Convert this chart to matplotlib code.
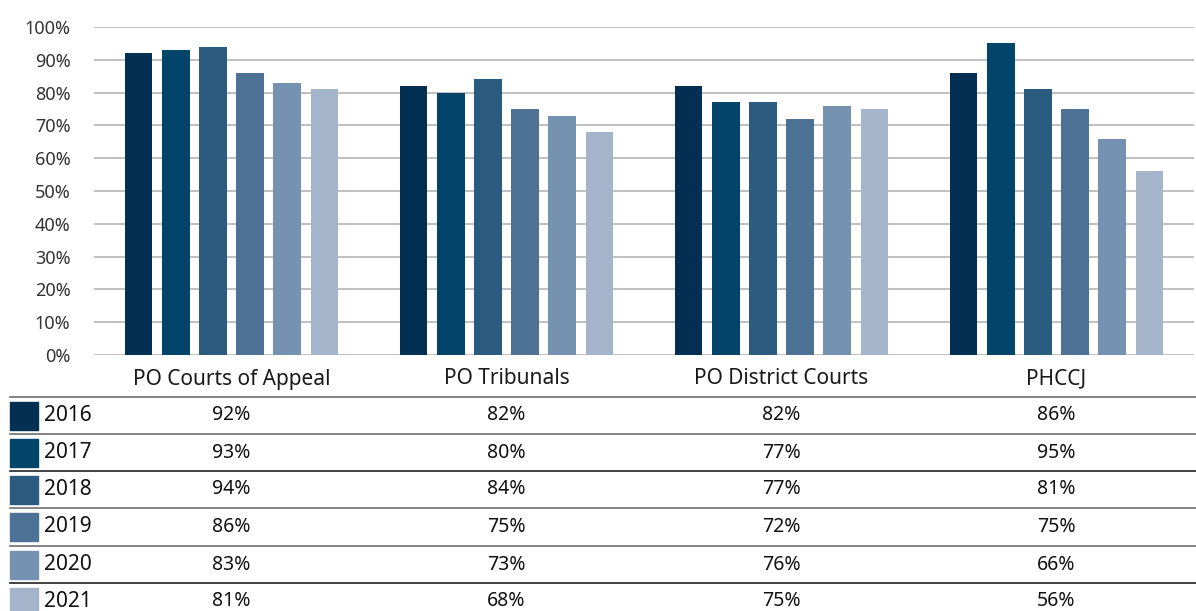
import matplotlib.pyplot as plt
import matplotlib.patches as mpatches
from matplotlib.transforms import blended_transform_factory
import numpy as np

plt.rcParams['font.family'] = ['Noto Sans', 'DejaVu Sans']

categories = ["PO Courts of Appeal", "PO Tribunals", "PO District Courts", "PHCCJ"]
years = ["2016", "2017", "2018", "2019", "2020", "2021"]
values = [
    [92, 82, 82, 86],   # 2016
    [93, 80, 77, 95],   # 2017
    [94, 84, 77, 81],   # 2018
    [86, 75, 72, 75],   # 2019
    [83, 73, 76, 66],   # 2020
    [81, 68, 75, 56],   # 2021
]
colors = ["#022f52", "#02446a", "#2c5b80", "#4d7296", "#7592b0", "#a3b4cb"]

W, H = 1196, 611
fig = plt.figure(figsize=(W / 100, H / 100), dpi=100)
ax = fig.add_axes([94 / W, (H - 355) / H, 1100 / W, 328 / H])

x = np.arange(len(categories))
slot = 0.135
bw = 0.10
for i, yr in enumerate(years):
    ax.bar(x + (i - 2.5) * slot, values[i], width=bw, color=colors[i], zorder=3)

ax.set_xlim(-0.5, len(categories) - 0.5)
ax.set_ylim(0, 100)
ax.set_yticks(np.arange(0, 101, 10))
ax.set_yticklabels([f"{v}%" for v in range(0, 101, 10)], fontsize=13, color="#333333")
ax.set_xticks([])
ax.grid(axis='y', color="#b5b5b5", linewidth=1.2, zorder=0)
ax.tick_params(axis='y', length=0, pad=17)
for s in ax.spines.values():
    s.set_visible(False)

# table under the chart
tr = blended_transform_factory(ax.transData, fig.transFigure)
def fy(py):
    return (H - py) / H

for j, cat in enumerate(categories):
    ax.text(x[j], fy(379), cat, transform=tr, ha='center', va='center',
            fontsize=15, color="#1a1a1a")

line_y = [397, 434, 471, 508, 546, 583]
line_c = ["#6e6e6e", "#6e6e6e", "#222222", "#6e6e6e", "#6e6e6e", "#222222"]
row_h = 37
for i, yr in enumerate(years):
    top = line_y[i]
    fig.add_artist(plt.Line2D([10 / W, 1196 / W], [fy(top), fy(top)],
                              color=line_c[i], linewidth=1.2))
    fig.add_artist(mpatches.Rectangle((10 / W, fy(top + 33)), 28 / W, 28 / H,
                                      color=colors[i], transform=fig.transFigure))
    mid = top + row_h / 2
    fig.text(44 / W, fy(mid), yr, ha='left', va='center', fontsize=15, color="#111111")
    for j in range(len(categories)):
        ax.text(x[j], fy(mid), f"{values[i][j]}%", transform=tr, ha='center',
                va='center', fontsize=14, color="#111111")

fig.savefig("out.png", dpi=100)
